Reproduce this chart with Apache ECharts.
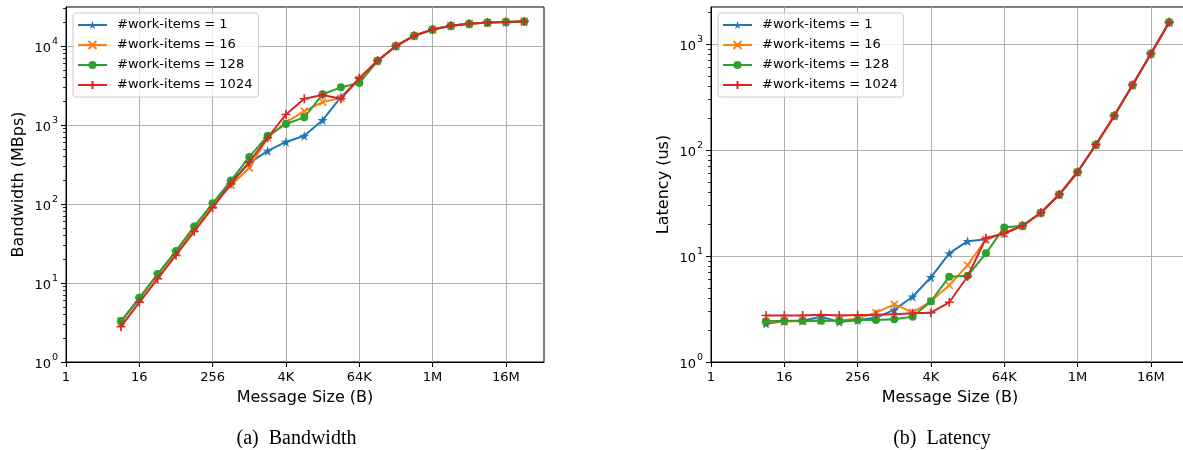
<!DOCTYPE html>
<html>
<head>
<meta charset="utf-8">
<script src="https://cdn.jsdelivr.net/npm/echarts@6/dist/echarts.min.js"></script>
<style>
html,body{margin:0;padding:0;background:#fff;overflow:hidden;width:1183px;height:450px;}
#chart{width:1300px;height:450px;}
</style>
</head>
<body>
<div id="chart"></div>
<script>
// ---------------- DATA ----------------
const sizes = [8, 16, 32, 64, 128, 256, 512, 1024, 2048, 4096, 8192, 16384, 32768, 65536,
  131072, 262144, 524288, 1048576, 2097152, 4194304, 8388608, 16777216, 33554432];
const seriesNames = ['#work-items = 1', '#work-items = 16', '#work-items = 128', '#work-items = 1024'];

// Bandwidth (MBps)
const bw1    = [3.2, 6.4, 12.8, 25, 51, 100, 192, 330, 470, 610, 730, 1150, 2250, 3800, 6500, 10000, 13500, 16200, 18100, 19200, 19800, 20200, 20500];
const bw16   = [3.3, 6.3, 12.5, 24, 49, 97, 172, 287, 690, 1080, 1500, 1950, 2200, 3800, 6500, 10000, 13500, 16200, 18100, 19200, 19800, 20200, 20500];
const bw128  = [3.3, 6.5, 13, 25.5, 52, 102, 198, 395, 730, 1030, 1250, 2450, 3000, 3400, 6500, 10000, 13500, 16200, 18100, 19200, 19800, 20200, 20500];
const bw1024 = [2.8, 5.7, 11.3, 22.5, 45, 90, 180, 340, 690, 1360, 2150, 2400, 2150, 3950, 6500, 10000, 13500, 16200, 18100, 19200, 19800, 20200, 20500];

// Latency (us)
const lat1    = [2.3, 2.42, 2.45, 2.67, 2.38, 2.49, 2.62, 3.1, 4.13, 6.3, 10.6, 13.8, 14.4, 16.4, 19.3, 25.6, 38, 62, 112, 210, 410, 810, 1600];
const lat16   = [2.38, 2.42, 2.42, 2.45, 2.45, 2.58, 2.92, 3.5, 2.94, 3.74, 5.3, 8.2, 14.4, 16.4, 19.3, 25.6, 38, 62, 112, 210, 410, 810, 1600];
const lat128  = [2.42, 2.45, 2.45, 2.45, 2.45, 2.49, 2.49, 2.53, 2.67, 3.74, 6.38, 6.5, 10.6, 18.6, 19.3, 25.6, 38, 62, 112, 210, 410, 810, 1600];
const lat1024 = [2.75, 2.75, 2.75, 2.79, 2.75, 2.77, 2.79, 2.82, 2.88, 2.92, 3.66, 6.4, 14.7, 16.4, 19.3, 25.6, 38, 62, 112, 210, 410, 810, 1600];

// Tick labels
const xTickValues = [1, 16, 256, 4096, 65536, 1048576, 16777216];
const xTickLabels = ['1', '16', '256', '4K', '64K', '1M', '16M'];
const yTickValues = [1, 10, 100, 1000, 10000];
const yTickExps   = ['0', '1', '2', '3', '4'];

const captions = ['(a)  Bandwidth', '(b)  Latency'];
const yTitles = ['Bandwidth (MBps)', 'Latency (us)'];
const xTitle = 'Message Size (B)';

// ---------------- STYLE ----------------
const colors = ['#1f77b4', '#ff7f0e', '#2ca02c', '#d62728'];
const FONT = '"DejaVu Sans", sans-serif';

function starPath() {
  const pts = [];
  for (let i = 0; i < 10; i++) {
    const r = (i % 2 === 0) ? 1 : 0.382;
    const a = -Math.PI / 2 + i * Math.PI / 5;
    pts.push((r * Math.cos(a)).toFixed(4) + ',' + (r * Math.sin(a)).toFixed(4));
  }
  return 'path://M' + pts.join('L') + 'Z';
}
const symbols = [starPath(), 'path://M-1,-1L1,1M-1,1L1,-1', 'circle', 'path://M0,-1L0,1M-1,0L1,0'];
const symbolSizes = [10, 7, 8, 9];
const symbolBorder = [0, 1.6, 0, 1.6];

function xLabel(v) {
  const l = Math.log2(v);
  const e = Math.round(l);
  if (Math.abs(l - e) > 1e-6) return '';
  const idx = xTickValues.findIndex(t => Math.round(Math.log2(t)) === e);
  return idx >= 0 ? xTickLabels[idx] : '';
}
function yLabel(v) {
  const l = Math.log10(v);
  const r = Math.round(l);
  if (Math.abs(l - r) > 1e-6) return '';
  const idx = yTickValues.findIndex(t => Math.round(Math.log10(t)) === r);
  return idx >= 0 ? '{b|10}{s|' + yTickExps[idx] + '}' : '';
}
function minorValues(maxV) {
  const out = [];
  for (let d = 1; d <= maxV; d *= 10) {
    for (let m = 2; m <= 9; m++) { if (m * d <= maxV) out.push(m * d); }
  }
  return out;
}

const gridW = 478, gridH = 355, gridTop = 7;
const gridLefts = [66, 711];
const xMax = Math.pow(2, 26.08);
const yMaxes = [Math.pow(10, 4.494), Math.pow(10, 3.349)];

function makeX(gi) {
  return {
    type: 'log', logBase: 2, gridIndex: gi, min: 1, max: xMax, interval: 4,
    name: xTitle, nameLocation: 'middle', nameGap: 28,
    nameTextStyle: { fontFamily: FONT, fontSize: 16, color: '#000' },
    axisLine: { show: true, lineStyle: { color: '#000', width: 1 } },
    axisTick: { show: true, length: 5, lineStyle: { color: '#000', width: 1 }, customValues: xTickValues },
    axisLabel: { show: true, margin: 9, fontFamily: FONT, fontSize: 13, color: '#000', formatter: xLabel, customValues: xTickValues },
    splitLine: { show: true, lineStyle: { color: '#b0b0b0', width: 1 } },
    minorTick: { show: false }, minorSplitLine: { show: false }
  };
}
function makeY(gi, maxV, title) {
  const vals = yTickValues.filter(v => v <= maxV);
  return {
    type: 'log', logBase: 10, gridIndex: gi, min: 1, max: maxV, interval: 1,
    position: 'left', offset: 0,
    name: title, nameLocation: 'middle', nameGap: 39, nameRotate: 90,
    nameTextStyle: { fontFamily: FONT, fontSize: 16, color: '#000' },
    axisLine: { show: true, lineStyle: { color: '#000', width: 1 } },
    axisTick: { show: true, length: 5, lineStyle: { color: '#000', width: 1 }, customValues: vals },
    axisLabel: {
      show: true, margin: 8, color: '#000', formatter: yLabel, customValues: vals,
      rich: {
        b: { fontFamily: FONT, fontSize: 13, color: '#000', lineHeight: 18, verticalAlign: 'bottom', padding: [5, 0, 0, 0] },
        s: { fontFamily: FONT, fontSize: 9.5, color: '#000', lineHeight: 10, verticalAlign: 'top', padding: [0, 0, 0, 1] }
      }
    },
    splitLine: { show: true, lineStyle: { color: '#b0b0b0', width: 1 } },
    minorTick: { show: false }, minorSplitLine: { show: false }
  };
}
function makeYMinor(gi, maxV) {
  return {
    type: 'log', logBase: 10, gridIndex: gi, min: 1, max: maxV, interval: 1,
    position: 'left', offset: 0,
    axisLine: { show: false },
    axisTick: { show: true, length: 3, lineStyle: { color: '#000', width: 0.8 }, customValues: minorValues(maxV) },
    axisLabel: { show: false },
    splitLine: { show: false }
  };
}

const bwData = [bw1, bw16, bw128, bw1024];
const latData = [lat1, lat16, lat128, lat1024];
const series = [];
[bwData, latData].forEach((set, gi) => {
  set.forEach((vals, si) => {
    series.push({
      name: seriesNames[si], type: 'line',
      xAxisIndex: gi, yAxisIndex: gi * 2,
      data: sizes.map((s, i) => [s, vals[i]]),
      symbol: symbols[si], symbolSize: symbolSizes[si], showAllSymbol: true,
      lineStyle: { color: colors[si], width: 2 },
      itemStyle: { color: colors[si], borderColor: colors[si], borderWidth: symbolBorder[si] },
      emphasis: { disabled: true }, animation: false, z: 3 + si
    });
  });
});

function makeLegend(left) {
  return {
    orient: 'vertical', left: left, top: 13,
    padding: [5, 6, 5, 4], itemGap: 6, itemWidth: 29, itemHeight: 10,
    backgroundColor: 'rgba(255,255,255,0.8)', borderColor: '#cccccc', borderWidth: 1, borderRadius: 3,
    textStyle: { fontFamily: FONT, fontSize: 13, color: '#000', lineHeight: 14, padding: [0, 0, 0, 5] },
    data: seriesNames, selectedMode: false, z: 10
  };
}

const option = {
  backgroundColor: '#fff',
  animation: false,
  grid: gridLefts.map(l => ({ left: l, top: gridTop, width: gridW, height: gridH, show: true, borderColor: '#000', borderWidth: 1, backgroundColor: 'transparent', containLabel: false, outerBoundsMode: 'none' })),
  xAxis: [makeX(0), makeX(1)],
  yAxis: [makeY(0, yMaxes[0], yTitles[0]), makeYMinor(0, yMaxes[0]), makeY(1, yMaxes[1], yTitles[1]), makeYMinor(1, yMaxes[1])],
  legend: [makeLegend(73), makeLegend(718)],
  series: series,
  graphic: [
    { type: 'text', x: 296.5, y: 439, style: { text: captions[0], font: '20px "Liberation Serif", "Times New Roman", serif', fill: '#000', align: 'center', verticalAlign: 'middle' } },
    { type: 'text', x: 942, y: 439, style: { text: captions[1], font: '20px "Liberation Serif", "Times New Roman", serif', fill: '#000', align: 'center', verticalAlign: 'middle' } }
  ]
};

const chart = echarts.init(document.getElementById('chart'), null, { renderer: 'canvas' });
chart.setOption(option);
</script>
</body>
</html>
